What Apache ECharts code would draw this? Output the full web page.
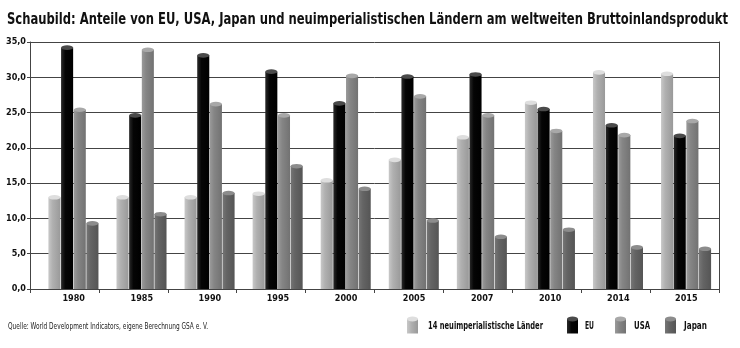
<!DOCTYPE html>
<html><head><meta charset="utf-8">
<script src="https://cdn.jsdelivr.net/npm/echarts@6/dist/echarts.min.js"></script>
<style>html,body{margin:0;padding:0;background:#fff}#c{width:740px;height:348px}</style>
</head><body><div id="c"></div>
<script>
const categories = ['1980','1985','1990','1995','2000','2005','2007','2010','2014','2015'];
const seriesNames = ['14 neuimperialistische Länder','EU','USA','Japan'];
const neuimp = [13.0, 13.0, 13.0, 13.5, 15.4, 18.3, 21.5, 26.4, 30.7, 30.5];
const eu     = [34.2, 24.6, 33.1, 30.8, 26.3, 30.1, 30.4, 25.5, 23.2, 21.7];
const usa    = [25.4, 33.9, 26.2, 24.6, 30.2, 27.3, 24.6, 22.4, 21.8, 23.8];
const japan  = [9.3, 10.6, 13.6, 17.4, 14.2, 9.7, 7.4, 8.4, 5.9, 5.7];
const yTicks = [0, 5, 10, 15, 20, 25, 30, 35];
const titleText = 'Schaubild: Anteile von EU, USA, Japan und neuimperialistischen Ländern am weltweiten Bruttoinlandsprodukt';
const sourceText = 'Quelle: World Development Indicators, eigene Berechnung GSA e. V.';

const FONT = "'DejaVu Sans Condensed','Liberation Sans',sans-serif";
const palette = [
  {base:'#b0b0b0', light:'#c8c8c8', dark:'#999999', top:'#dedede'},
  {base:'#050505', light:'#2a2a2a', dark:'#000000', top:'#4a4a4a'},
  {base:'#858585', light:'#9a9a9a', dark:'#727272', top:'#a8a8a8'},
  {base:'#646464', light:'#767676', dark:'#555555', top:'#8c8c8c'}
];
const allData = [neuimp, eu, usa, japan];

const mctx = document.createElement('canvas').getContext('2d');
function fitText(text, font, x0, x1, yc, fill){
  mctx.font = font;
  const w = mctx.measureText(text).width;
  const s = (x1 - x0) / w;
  return {type:'text', x:x0, y:yc, scaleX:s, scaleY:1,
    style:{text:text, font:font, fill:fill, textVerticalAlign:'middle', verticalAlign:'middle', textAlign:'left', align:'left'}};
}

const chart = echarts.init(document.getElementById('c'), null, {renderer:'canvas'});

function makeRender(k){
  const p = palette[k];
  return function(params, api){
    const idx = api.value(0), val = api.value(1);
    const base = api.coord([idx, 0]);
    const top = api.coord([idx, val]);
    const bw = api.size([1,0])[0];
    const w = bw * 0.186;
    const x = base[0] - 2*w + k*w;
    const grad = new echarts.graphic.LinearGradient(0,0,1,0,[
      {offset:0, color:p.light},{offset:0.35, color:p.base},{offset:1, color:p.dark}]);
    return {type:'group', children:[
      {type:'rect', shape:{x:x, y:top[1], width:w-0.6, height:base[1]-top[1]}, style:{fill:grad}},
      {type:'circle', shape:{cx:0, cy:0, r:(w-0.6)/2}, x:x+(w-0.6)/2, y:top[1], scaleY:0.38, style:{fill:p.top}}
    ]};
  };
}

const series = allData.map((arr,k)=>({
  name: seriesNames[k], type:'custom', xAxisIndex:1, yAxisIndex:1,
  itemStyle:{color:palette[k].base},
  renderItem: makeRender(k),
  encode:{x:0, y:1},
  data: arr.map((v,i)=>[i, v]),
  z: 5
}));

// legend drawn as graphic (cylinder icons + condensed text)
const legIcon = [{x:407,t0:428,t1:543},{x:567,t0:585,t1:594},{x:615,t0:634,t1:650},{x:665,t0:684,t1:707}];
const legendGraphics = [];
seriesNames.forEach((n,k)=>{
  const L = legIcon[k], p = palette[k];
  const w = 11, h = 17, ry = 2.5, y0 = 316.5;
  legendGraphics.push({type:'rect', shape:{x:L.x, y:y0+ry, width:w, height:h-ry}, style:{fill:new echarts.graphic.LinearGradient(0,0,1,0,[{offset:0,color:p.light},{offset:0.4,color:p.base},{offset:1,color:p.dark}])}});
  legendGraphics.push({type:'circle', shape:{cx:0,cy:0,r:w/2}, x:L.x+w/2, y:y0+ry, scaleY:ry/(w/2), style:{fill:p.top}});
  legendGraphics.push(fitText(n, 'bold 11px '+FONT, L.t0, L.t1, 326, '#111'));
});

chart.setOption({
  animation:false,
  backgroundColor:'#fff',
  grid:[
    {left:30, right:21, top:42, bottom:59},
    {left:39.7, right:19.6, top:42, bottom:59}
  ],
  xAxis:[
    {type:'category', gridIndex:0, data:categories, boundaryGap:true,
     axisLine:{show:true, lineStyle:{color:'#444', width:1}},
     axisTick:{show:true, length:4, lineStyle:{color:'#444'}},
     axisLabel:{show:false}, splitLine:{show:false}},
    {type:'category', gridIndex:1, data:categories, boundaryGap:true,
     axisLine:{show:false}, axisTick:{show:false},
     axisLabel:{show:true, fontFamily:FONT, fontWeight:'bold', fontSize:9, color:'#111', margin:5}}
  ],
  yAxis:[
    {type:'value', gridIndex:0, min:yTicks[0], max:yTicks[yTicks.length-1], interval:5,
     axisLine:{show:true, lineStyle:{color:'#444'}},
     axisTick:{show:true, length:3, lineStyle:{color:'#444'}},
     axisLabel:{fontFamily:FONT, fontWeight:'bold', fontSize:9, color:'#111', margin:4,
       formatter:v=>v.toFixed(1).replace('.',',')},
     splitLine:{show:true, lineStyle:{color:'#444', width:1}}},
    {type:'value', gridIndex:1, min:yTicks[0], max:yTicks[yTicks.length-1], interval:5,
     axisLine:{show:false}, axisTick:{show:false}, axisLabel:{show:false}, splitLine:{show:false}},
    {type:'value', gridIndex:0, position:'right', min:yTicks[0], max:yTicks[yTicks.length-1], interval:5,
     axisLine:{show:true, lineStyle:{color:'#444'}}, axisTick:{show:false}, axisLabel:{show:false}, splitLine:{show:false}}
  ],
  graphic:[
    fitText(titleText, 'bold 16px '+FONT, 7, 728, 20, '#111'),
    fitText(sourceText, '9px '+FONT, 8, 208, 327, '#222')
  ].concat(legendGraphics),
  series: series
});
</script></body></html>
